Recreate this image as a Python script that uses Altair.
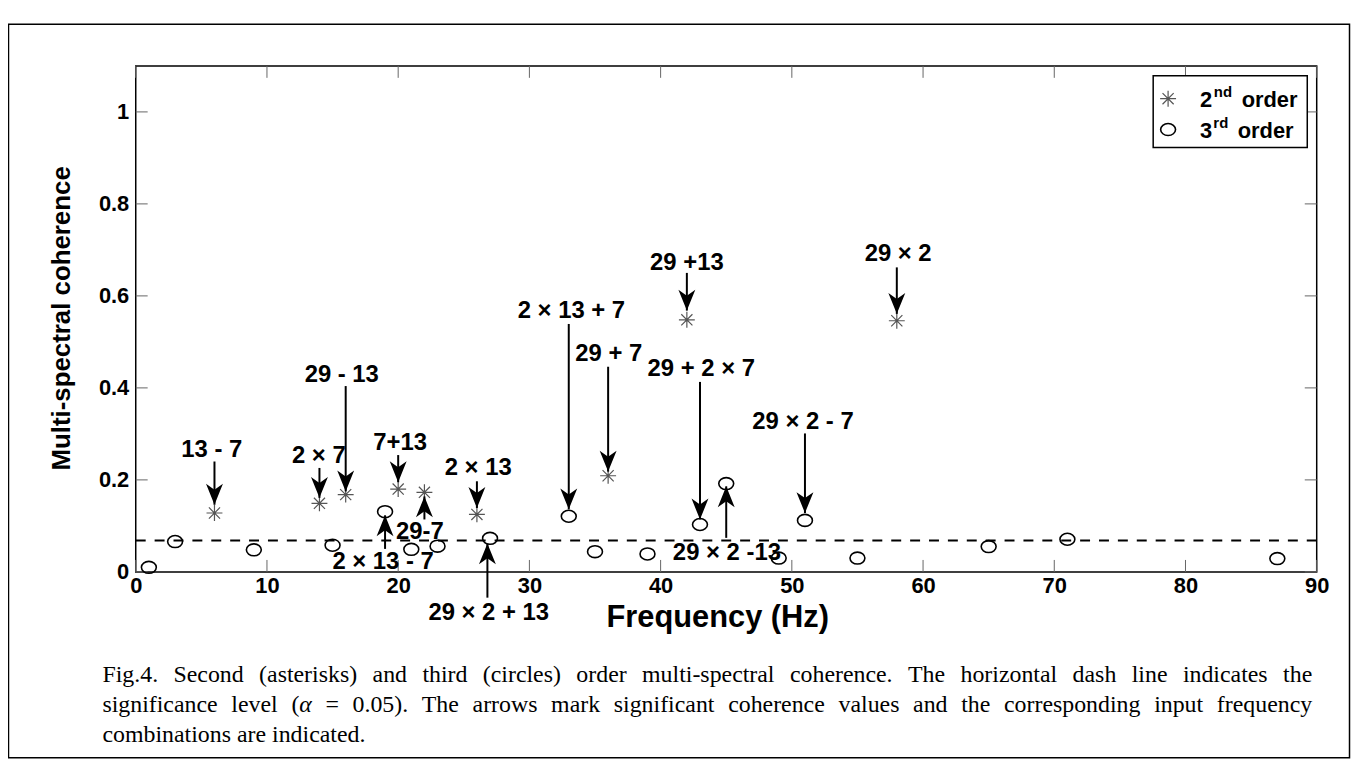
import altair as alt
import pandas as pd

# ---------------- data ----------------
freq_2nd = [6, 14, 16, 20, 22, 26, 36, 42, 58]
coh_2nd = [0.128, 0.149, 0.168, 0.180, 0.173, 0.125, 0.209, 0.548, 0.546]

freq_3rd = [1, 3, 9, 15, 19, 21, 23, 27, 33, 35, 39, 43, 45, 49, 51, 55, 65, 71, 87]
coh_3rd = [0.010, 0.066, 0.048, 0.058, 0.131, 0.049, 0.056, 0.073, 0.121, 0.044,
           0.039, 0.103, 0.192, 0.030, 0.112, 0.030, 0.055, 0.071, 0.029]

significance = 0.068
x_tick_values = [0, 10, 20, 30, 40, 50, 60, 70, 80, 90]
y_tick_values = [0, 0.2, 0.4, 0.6, 0.8, 1.0]

ann_text = ["13 - 7", "2 × 7", "29 - 13", "7+13", "29-7", "2 × 13 - 7", "2 × 13",
            "29 × 2 + 13", "2 × 13 + 7", "29 + 7", "29 +13", "29 + 2 × 7",
            "29 × 2 -13", "29 × 2 - 7", "29 × 2"]
ann_text_x = [5.8, 13.95, 15.7, 20.15, 21.65, 18.85, 26.1, 26.9, 33.2, 36.05, 42.0,
              43.1, 45.05, 50.85, 58.1]
ann_text_y = [0.265, 0.252, 0.427, 0.281, 0.086, 0.022, 0.226, -0.090, 0.567, 0.474,
              0.671, 0.442, 0.042, 0.3265, 0.691]
ann_arrow_x = [6, 14, 16, 20, 22, 19, 26, 26.8, 33, 36, 42, 43, 45, 51, 58]
ann_arrow_from = [0.240, 0.226, 0.404, 0.254, 0.114, 0.050, 0.197, -0.056, 0.539, 0.446,
                  0.650, 0.413, 0.074, 0.301, 0.662]
ann_arrow_to = [0.146, 0.161, 0.175, 0.195, 0.164, 0.123, 0.139, 0.062, 0.136, 0.218,
                0.568, 0.114, 0.186, 0.128, 0.561]

legend_main = ["2", "3"]
legend_sup = ["nd", "rd"]
legend_word = ["order", "order"]

caption_lines = [
    "Fig.4. Second (asterisks) and third (circles) order multi-spectral coherence. The horizontal dash line indicates the",
    "significance level (α = 0.05). The arrows mark significant coherence values and the corresponding input frequency",
    "combinations are indicated.",
]

# ---------------- layout ----------------
W, H = 1188, 509
PLOT_LEFT, PLOT_TOP = 136.5, 64  # page coords of plot origin

xs = alt.Scale(domain=[0, 90], nice=False, zero=False)
ys = alt.Scale(domain=[0, 1.1], nice=False, zero=False)
axis_common = dict(title=None, ticks=False, domain=False, grid=False, labelFlush=False,
                   labelOverlap=False, labelFont="Liberation Sans", labelFontWeight="bold",
                   labelFontSize=22, labelColor="black")
xaxis = alt.Axis(values=x_tick_values, labelPadding=4, **axis_common)
yaxis = alt.Axis(values=y_tick_values, labelPadding=7, format="~g", **axis_common)


def X(f):
    return alt.X(f, type="quantitative", scale=xs, axis=xaxis)


def Y(f):
    return alt.Y(f, type="quantitative", scale=ys, axis=yaxis)


ASTERISK = "M -1 0 L 1 0 M 0 -1 L 0 1 M -0.7 -0.7 L 0.7 0.7 M -0.7 0.7 L 0.7 -0.7"
ELLIPSE = "M -1 0 A 1 0.8 0 1 1 1 0 A 1 0.8 0 1 1 -1 0 Z"
HEAD = "M 0 0 L -0.85 -2.1 L 0 -1.5 L 0.85 -2.1 Z"

df2 = pd.DataFrame({"x": freq_2nd, "y": coh_2nd})
df3 = pd.DataFrame({"x": freq_3rd, "y": coh_3rd})
dsig = pd.DataFrame({"x": [0], "x2": [90], "y": [significance]})
dxt = pd.DataFrame({"x": x_tick_values})
dyt = pd.DataFrame({"y": y_tick_values})
dann = pd.DataFrame({"t": ann_text, "tx": ann_text_x, "ty": ann_text_y,
                     "ax": ann_arrow_x, "a0": ann_arrow_from, "a1": ann_arrow_to})
dann["dir"] = ["down" if b < a else "up" for a, b in zip(ann_arrow_from, ann_arrow_to)]
one = pd.DataFrame({"k": [0]})

layers = []

# ticks (inward, all four sides)
tick_color = "#666666"
layers.append(alt.Chart(dxt).mark_rule(color=tick_color, strokeWidth=1).encode(
    x=X("x"), y=alt.value(H), y2=alt.value(H - 12)))
layers.append(alt.Chart(dxt).mark_rule(color=tick_color, strokeWidth=1).encode(
    x=X("x"), y=alt.value(0), y2=alt.value(12)))
layers.append(alt.Chart(dyt).mark_rule(color=tick_color, strokeWidth=1).encode(
    y=Y("y"), x=alt.value(0), x2=alt.value(12)))
layers.append(alt.Chart(dyt).mark_rule(color=tick_color, strokeWidth=1).encode(
    y=Y("y"), x=alt.value(W), x2=alt.value(W - 12)))

# significance level
layers.append(alt.Chart(dsig).mark_rule(color="black", strokeWidth=2, strokeDash=[10, 9]).encode(
    x=X("x"), x2="x2", y=Y("y")))

# points
layers.append(alt.Chart(df3).mark_point(shape=ELLIPSE, size=225, filled=False, color="black",
                                        strokeWidth=1.6, opacity=1).encode(x=X("x"), y=Y("y")))
layers.append(alt.Chart(df2).mark_point(shape=ASTERISK, size=256, filled=False, color="#555555",
                                        strokeWidth=1.2, opacity=1).encode(x=X("x"), y=Y("y")))

# arrows
layers.append(alt.Chart(dann).mark_rule(color="black", strokeWidth=2).encode(
    x=X("ax"), y=Y("a0"), y2="a1"))
layers.append(alt.Chart(dann).transform_filter(alt.datum.dir == "down").mark_point(
    shape=HEAD, size=400, filled=True, color="black", opacity=1).encode(x=X("ax"), y=Y("a1")))
layers.append(alt.Chart(dann).transform_filter(alt.datum.dir == "up").mark_point(
    shape=HEAD, size=400, filled=True, color="black", opacity=1, angle=180).encode(x=X("ax"), y=Y("a1")))

# annotation labels
layers.append(alt.Chart(dann).mark_text(font="Liberation Sans", fontWeight="bold", fontSize=24,
                                        color="black", align="center", baseline="middle").encode(
    x=X("tx"), y=Y("ty"), text="t:N"))

# legend
leg_box = alt.Chart(one).mark_rect(fill="white", stroke="black", strokeWidth=1.5).encode(
    x=alt.value(1160 - PLOT_LEFT), x2=alt.value(1315 - PLOT_LEFT),
    y=alt.value(74 - PLOT_TOP), y2=alt.value(146 - PLOT_TOP))
layers.append(leg_box)
dleg_sym = pd.DataFrame({"px": [1175 - PLOT_LEFT], "py": [97 - PLOT_TOP]})
dleg_sym3 = pd.DataFrame({"px": [1175 - PLOT_LEFT], "py": [128 - PLOT_TOP]})
layers.append(alt.Chart(dleg_sym).mark_point(shape=ASTERISK, size=256, filled=False, color="#555555",
                                             strokeWidth=1.2, opacity=1).encode(
    x=alt.X("px:Q", scale=None), y=alt.Y("py:Q", scale=None)))
layers.append(alt.Chart(dleg_sym3).mark_point(shape=ELLIPSE, size=225, filled=False, color="black",
                                              strokeWidth=1.6, opacity=1).encode(
    x=alt.X("px:Q", scale=None), y=alt.Y("py:Q", scale=None)))
dleg_main = pd.DataFrame({
    "t": [legend_main[0], legend_word[0], legend_main[1], legend_word[1]],
    "px": [1207 - PLOT_LEFT, 1249 - PLOT_LEFT, 1207 - PLOT_LEFT, 1245 - PLOT_LEFT],
    "py": [98 - PLOT_TOP, 98 - PLOT_TOP, 130 - PLOT_TOP, 130 - PLOT_TOP]})
dleg_sup = pd.DataFrame({
    "t": legend_sup,
    "px": [1221 - PLOT_LEFT, 1220.5 - PLOT_LEFT],
    "py": [90 - PLOT_TOP, 121 - PLOT_TOP]})
layers.append(alt.Chart(dleg_main).mark_text(font="Liberation Sans", fontWeight="bold", fontSize=22,
                                             color="black", align="left", baseline="middle").encode(
    x=alt.X("px:Q", scale=None), y=alt.Y("py:Q", scale=None), text="t:N"))
layers.append(alt.Chart(dleg_sup).mark_text(font="Liberation Sans", fontWeight="bold", fontSize=15,
                                            color="black", align="left", baseline="middle").encode(
    x=alt.X("px:Q", scale=None), y=alt.Y("py:Q", scale=None), text="t:N"))

# axis titles
dtitles = pd.DataFrame({"t": ["Frequency (Hz)"], "px": [722 - PLOT_LEFT], "py": [619 - PLOT_TOP]})
layers.append(alt.Chart(dtitles).mark_text(font="Liberation Sans", fontWeight="bold", fontSize=31,
                                           color="black", align="center", baseline="middle").encode(
    x=alt.X("px:Q", scale=None), y=alt.Y("py:Q", scale=None), text="t:N"))
dytitle = pd.DataFrame({"t": ["Multi-spectral coherence"], "px": [62 - PLOT_LEFT], "py": [318 - PLOT_TOP]})
layers.append(alt.Chart(dytitle).mark_text(font="Liberation Sans", fontWeight="bold", fontSize=26,
                                           color="black", align="center", baseline="middle",
                                           angle=270).encode(
    x=alt.X("px:Q", scale=None), y=alt.Y("py:Q", scale=None), text="t:N"))

# caption, justified using Times metrics
TW = {"a": 444, "b": 500, "c": 444, "d": 500, "e": 444, "f": 333, "g": 500, "h": 500, "i": 278,
      "j": 278, "k": 500, "l": 278, "m": 778, "n": 500, "o": 500, "p": 500, "q": 500, "r": 333,
      "s": 389, "t": 278, "u": 500, "v": 500, "w": 722, "x": 500, "y": 500, "z": 444,
      "F": 556, "S": 556, "T": 611, ".": 250, ",": 250, "(": 333, ")": 333, "-": 333,
      "=": 564, " ": 250, "α": 520}
CAP_FS = 24
CAP_LEFT, CAP_RIGHT = 103, 1320
CAP_Y = [677, 707, 737]


def tw(s):
    return sum(TW.get(ch, 500) for ch in s) * CAP_FS / 1000.0


segs = []
for li, line in enumerate(caption_lines):
    words = line.split(" ")
    widths = [tw(w) for w in words]
    if li < 2:
        gap = (CAP_RIGHT - CAP_LEFT - sum(widths)) / (len(words) - 1)
    else:
        gap = tw(" ")
    cx = CAP_LEFT
    for w, wd in zip(words, widths):
        if "α" in w:
            parts = w.split("α")
            px = cx
            for pi, p in enumerate(parts):
                if p:
                    segs.append({"t": p, "px": px - PLOT_LEFT, "py": CAP_Y[li] - PLOT_TOP, "it": 0})
                    px += tw(p)
                if pi < len(parts) - 1:
                    segs.append({"t": "α", "px": px - PLOT_LEFT, "py": CAP_Y[li] - PLOT_TOP, "it": 1})
                    px += tw("α")
        else:
            segs.append({"t": w, "px": cx - PLOT_LEFT, "py": CAP_Y[li] - PLOT_TOP, "it": 0})
        cx += wd + gap
dcap = pd.DataFrame(segs)
layers.append(alt.Chart(dcap).transform_filter(alt.datum.it == 0).mark_text(
    font="Liberation Serif", fontSize=CAP_FS, color="black", align="left", baseline="middle").encode(
    x=alt.X("px:Q", scale=None), y=alt.Y("py:Q", scale=None), text="t:N"))
layers.append(alt.Chart(dcap).transform_filter(alt.datum.it == 1).mark_text(
    font="Liberation Serif", fontSize=CAP_FS, fontStyle="italic", color="black", align="left",
    baseline="middle").encode(
    x=alt.X("px:Q", scale=None), y=alt.Y("py:Q", scale=None), text="t:N"))

# outer figure border
layers.append(alt.Chart(one).mark_rect(fillOpacity=0, stroke="black", strokeWidth=1.5).encode(
    x=alt.value(8.5 - PLOT_LEFT), x2=alt.value(1357.5 - PLOT_LEFT),
    y=alt.value(22 - PLOT_TOP), y2=alt.value(760 - PLOT_TOP)))

chart = alt.layer(*layers).properties(
    width=W, height=H,
    background="white",
    autosize=alt.AutoSizeParams(type="none"),
    padding={"left": PLOT_LEFT - 8, "top": PLOT_TOP - 8, "right": 1352 - (PLOT_LEFT - 8) - W,
             "bottom": 757 - (PLOT_TOP - 8) - H},
).configure_view(stroke="black", strokeWidth=1.5)

chart.save("out.html", embed_options={"renderer": "svg", "actions": False})
